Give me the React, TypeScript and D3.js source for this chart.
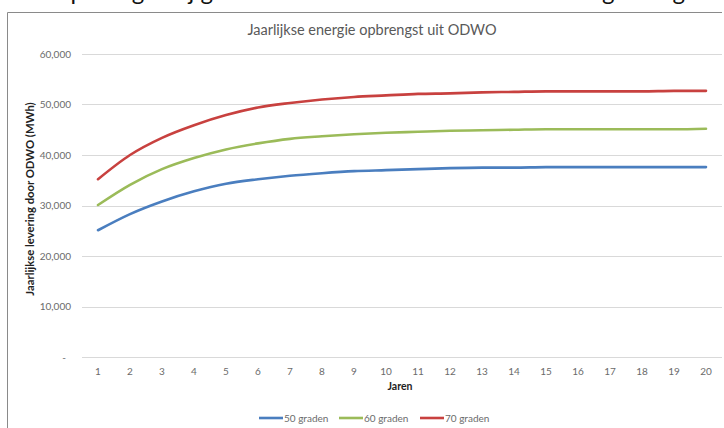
import React from "react";
import * as d3 from "d3";

const years = ["1","2","3","4","5","6","7","8","9","10","11","12","13","14","15","16","17","18","19","20"];
const series50 = [25100, 28300, 30800, 32800, 34300, 35200, 35900, 36400, 36800, 37000, 37200, 37400, 37500, 37500, 37600, 37600, 37600, 37600, 37600, 37600];
const series60 = [30100, 34100, 37200, 39400, 41100, 42300, 43200, 43700, 44100, 44400, 44600, 44800, 44900, 45000, 45100, 45100, 45100, 45100, 45100, 45200];
const series70 = [35200, 40000, 43400, 45900, 47900, 49400, 50300, 51000, 51500, 51800, 52100, 52200, 52400, 52500, 52600, 52600, 52600, 52600, 52700, 52700];
const seriesNames = ["50 graden", "60 graden", "70 graden"];
const yTicks = [0, 10000, 20000, 30000, 40000, 50000, 60000];
const colors = ["#4a7ebf", "#9bbb59", "#c8413f"];

const title = "Jaarlijkse energie opbrengst uit ODWO";
const xTitle = "Jaren";
const yTitle = "Jaarlijkse levering door ODWO (MWh)";
const topText = "De opbrengst bij gebruik van ODWO is te zien in de volgende grafiek";

export default function App() {
  const W = 724, H = 428;
  const x = d3.scaleBand().domain(years).range([82, 722]).padding(0);
  const y = d3.scaleLinear().domain([0, 60000]).range([357, 54]);
  const line = d3
    .line<number>()
    .x((_, i) => (x(years[i]) as number) + x.bandwidth() / 2)
    .y((d) => y(d))
    .curve(d3.curveMonotoneX);
  const all = [series50, series60, series70];
  const fmt = d3.format(",");
  const font = "Lato, 'Open Sans', sans-serif";
  const legendX = [259, 339, 420];

  return (
    <svg width={W} height={H} style={{ position: "absolute", left: 0, top: 0, background: "#fff" }}>
      <rect x={0} y={0} width={W} height={H} fill="#fff" />
      <text x={20} y={-0.5} fontFamily={font} fontSize={24} fill="#111">{topText}</text>
      {/* frame */}
      <line x1={7.5} y1={12.5} x2={722} y2={12.5} stroke="#8a8a8a" strokeWidth={1} />
      <line x1={7.5} y1={12.5} x2={7.5} y2={428} stroke="#8a8a8a" strokeWidth={1} />
      <text x={372} y={35} textAnchor="middle" fontFamily={font} fontSize={14.5} fill="#595959">{title}</text>
      {yTicks.map((t) => (
        <g key={t}>
          <line x1={82} x2={722} y1={Math.round(y(t)) + 0.5} y2={Math.round(y(t)) + 0.5} stroke="#d9d9d9" strokeWidth={1} />
          <text x={t === 0 ? 66 : 71} y={y(t) + 3.5} textAnchor="end" fontFamily={font} fontSize={10} fill="#6b6b6b">
            {t === 0 ? "-" : fmt(t)}
          </text>
        </g>
      ))}
      {years.map((yr) => (
        <text key={yr} x={(x(yr) as number) + x.bandwidth() / 2} y={375} textAnchor="middle" fontFamily={font} fontSize={10} fill="#6b6b6b">
          {yr}
        </text>
      ))}
      <text x={400} y={390} textAnchor="middle" fontFamily={font} fontSize={10.5} fontWeight="bold" fill="#222">{xTitle}</text>
      <text transform="translate(34,199) rotate(-90)" textAnchor="middle" fontFamily={font} fontSize={11.3} fontWeight="bold" fill="#222">{yTitle}</text>
      {all.map((s, i) => (
        <path key={i} d={line(s) || ""} fill="none" stroke={colors[i]} strokeWidth={2.6} strokeLinejoin="round" strokeLinecap="round" />
      ))}
      {seriesNames.map((n, i) => (
        <g key={n}>
          <line x1={legendX[i]} x2={legendX[i] + 24} y1={418} y2={418} stroke={colors[i]} strokeWidth={2.6} />
          <text x={legendX[i] + 25} y={421.5} fontFamily={font} fontSize={10} fill="#6b6b6b">{n}</text>
        </g>
      ))}
    </svg>
  );
}
